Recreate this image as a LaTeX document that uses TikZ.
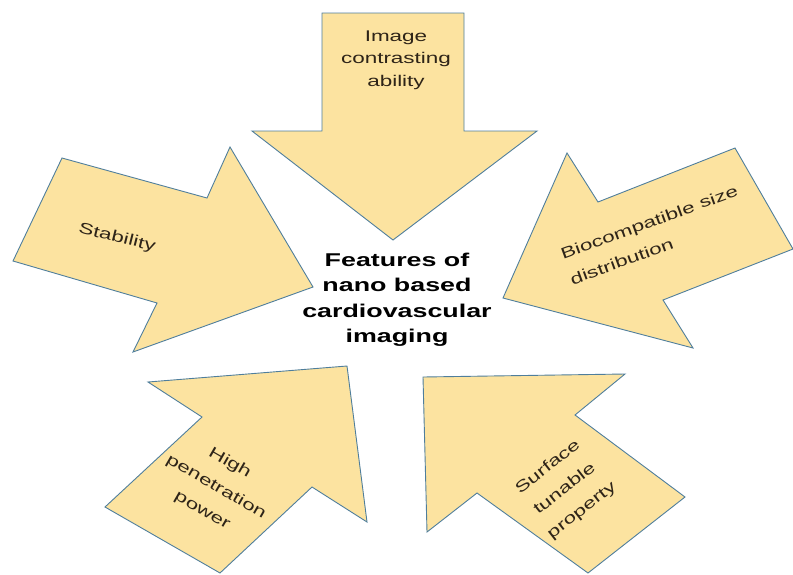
\documentclass[tikz,border=0pt]{standalone}
\usepackage{fontspec}
\usepackage{tikz}
\newfontfamily\labelfont[FakeStretch=1.45]{Liberation Sans}
\definecolor{arrowfill}{HTML}{FCE3A0}
\definecolor{arrowline}{HTML}{4F7E9C}
\definecolor{labeltext}{HTML}{2E2418}

\begin{document}
\begin{tikzpicture}[x=1pt,y=-1pt,
  feat/.style={draw=arrowline,fill=arrowfill,line width=0.9pt,line join=miter},
  lbl/.style={text=labeltext,align=center,inner sep=0pt,
    font=\labelfont\fontsize{15.5}{27.5}\selectfont}]
			\useasboundingbox (0,0) rectangle (793,574);
			% the five arrows
			\draw[feat] (322,13) -- (464,13) -- (464,131) -- (537,131) -- (393,240)
				-- (252,131) -- (322,131) -- cycle;
			\draw[feat] (62,158) -- (207,198) -- (230,147) -- (313,287) -- (133,352)
				-- (157,303) -- (13,261) -- cycle;
			\draw[feat] (735,148) -- (793,249) -- (663,300) -- (693,348) -- (503,298)
				-- (567,153) -- (598,202) -- cycle;
			\draw[feat] (148,382) -- (347,366) -- (367,522) -- (312,487) -- (220,573)
				-- (105,507) -- (202,417) -- cycle;
			\draw[feat] (423,377) -- (625,374) -- (575,415) -- (685,497) -- (588,573)
				-- (477,493) -- (427,532) -- cycle;
			% texts
			\node[lbl,font=\labelfont\fontsize{15.5}{22.5}\selectfont] (contrast) at (396,60) {Image\\contrasting\\ability};
			\node[lbl,rotate=-14] (stab) at (117,238) {Stability};
			\node[lbl,rotate=20,align=left] (biocomp) at (654,235) {Biocompatible size\\distribution};
			\node[lbl,rotate=-30] (penetr) at (216,487) {High\\penetration\\power};
			\node[lbl,rotate=38] (surface) at (565,489) {Surface\\tunable\\property};
			\node[align=center,inner sep=0pt,font=\labelfont\bfseries\fontsize{18.5}{25.5}\selectfont] (imaging) at (397,300)
				{Features of\\nano based\\cardiovascular\\imaging};
		\end{tikzpicture}
\end{document}
